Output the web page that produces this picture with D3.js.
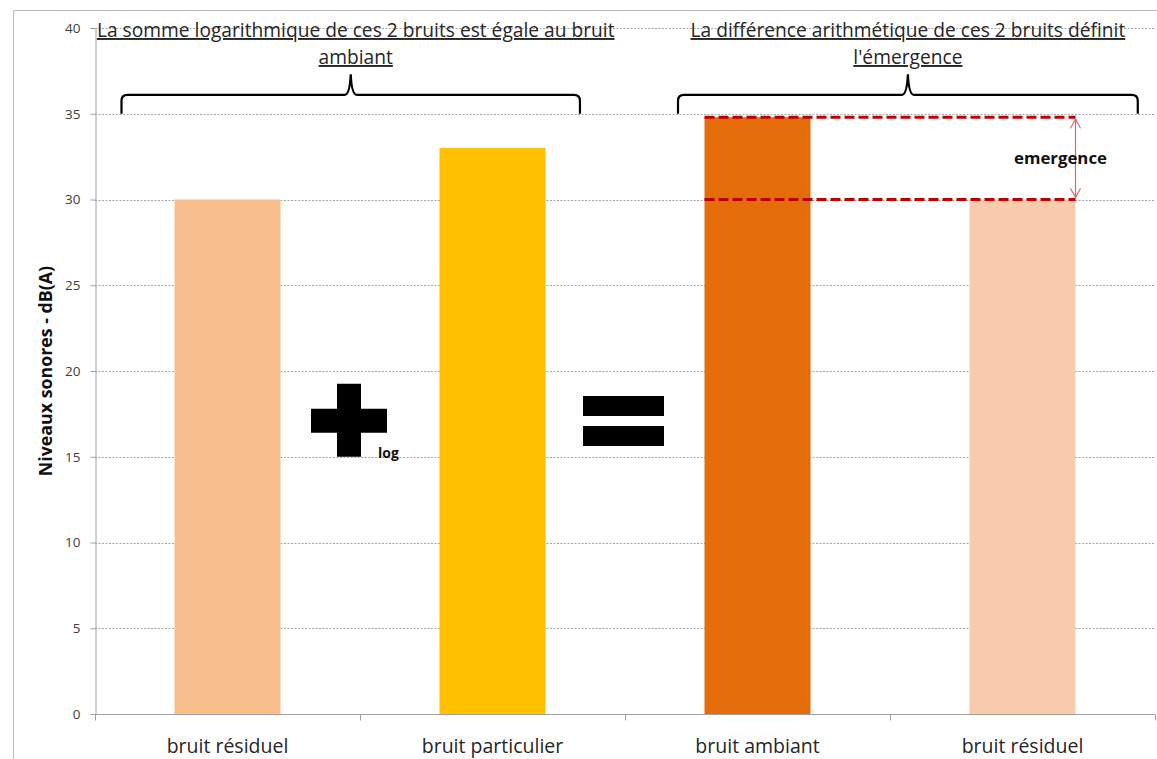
<!DOCTYPE html>
<html>
<head>
<meta charset="utf-8">
<script src="https://cdn.jsdelivr.net/npm/d3@7"></script>
<style>
  html, body { margin: 0; padding: 0; background: #fff; }
  svg { display: block; font-family: "Open Sans", "Liberation Sans", sans-serif; }
</style>
</head>
<body>
<svg id="chart" width="1157" height="759"></svg>
<script>
// Niveaux sonores (dB(A)) for each noise
const categories = ["bruit résiduel", "bruit particulier", "bruit ambiant", "bruit résiduel"];
const levels = [30, 33, 34.8, 30];
const barColors = ["#F8BE8C", "#FFC000", "#E46C0A", "#F8CBAD"];
const yTicks = [0, 5, 10, 15, 20, 25, 30, 35, 40];
const yTitle = "Niveaux sonores - dB(A)";
const leftCaption = ["La somme logarithmique de ces 2 bruits est égale au bruit", "ambiant"];
const rightCaption = ["La différence arithmétique de ces 2 bruits définit", "l'émergence"];

const svg = d3.select("#chart");
const W = 1157, H = 759;
const plot = { left: 95, right: 1155, top: 28, bottom: 714 };

// outer frame
svg.append("path")
  .attr("d", `M13.5,${H} V10.5 H${W}`)
  .attr("fill", "none").attr("stroke", "#BDBDBD").attr("stroke-width", 1);

const x = d3.scaleBand().domain(d3.range(categories.length))
  .range([plot.left, plot.right]).paddingInner(0.6).paddingOuter(0.3);
const y = d3.scaleLinear().domain([0, 40]).range([plot.bottom, plot.top]);
const step = x.step();
const bandEdge = i => plot.left + i * step;

// horizontal grid
svg.append("g").selectAll("line").data(yTicks.filter(d => d > 0)).join("line")
  .attr("x1", plot.left).attr("x2", plot.right)
  .attr("y1", d => Math.round(y(d)) + 0.5).attr("y2", d => Math.round(y(d)) + 0.5)
  .attr("stroke", "#A6A6A6").attr("stroke-width", 1).attr("stroke-dasharray", "2,1.5");

// bars
svg.append("g").selectAll("rect").data(levels).join("rect")
  .attr("x", (d, i) => x(i)).attr("width", x.bandwidth())
  .attr("y", d => y(d)).attr("height", d => y(0) - y(d))
  .attr("fill", (d, i) => barColors[i]);

// y axis
const yAxis = d3.axisLeft(y).tickValues(yTicks).tickSize(5).tickPadding(10);
const gy = svg.append("g").attr("transform", `translate(${plot.left + 0.5},0)`).call(yAxis);
gy.select(".domain").attr("stroke", "#A0A0A0");
gy.selectAll(".tick line").attr("stroke", "#A0A0A0");
gy.selectAll(".tick text").attr("font-size", 13.5).attr("fill", "#404040")
  .attr("font-family", "'Open Sans', sans-serif");

// x axis (ticks at category boundaries)
const gx = svg.append("g").attr("transform", `translate(0,${plot.bottom + 0.5})`);
gx.append("line").attr("x1", plot.left).attr("x2", plot.right)
  .attr("stroke", "#A0A0A0");
gx.selectAll("line.t").data(d3.range(categories.length + 1)).join("line").attr("class", "t")
  .attr("x1", i => Math.round(bandEdge(i)) + 0.5).attr("x2", i => Math.round(bandEdge(i)) + 0.5)
  .attr("y1", 0).attr("y2", 6).attr("stroke", "#A0A0A0");
gx.selectAll("text").data(categories).join("text")
  .attr("x", (d, i) => x(i) + x.bandwidth() / 2).attr("y", 38)
  .attr("text-anchor", "middle").attr("font-size", 19.5).attr("fill", "#262626")
  .text(d => d);

// y axis title
svg.append("text")
  .attr("transform", `translate(52,${(plot.top + plot.bottom) / 2}) rotate(-90)`)
  .attr("text-anchor", "middle").attr("font-weight", "bold").attr("font-size", 17.8)
  .attr("fill", "#111").text(yTitle);

// curly braces grouping the bars
function brace(x0, x1, yTip, yBar, yPeak) {
  const cx = (x0 + x1) / 2, r = 6;
  return `M${x0},${yTip} V${yBar + r} Q${x0},${yBar} ${x0 + r},${yBar} H${cx - 6}
          Q${cx - 1},${yBar} ${cx},${yPeak} Q${cx + 1},${yBar} ${cx + 6},${yBar}
          H${x1 - r} Q${x1},${yBar} ${x1},${yBar + r} V${yTip}`;
}
const braceSpans = [[bandEdge(0) + 0.1 * step, bandEdge(2) - 0.17 * step],
                    [bandEdge(2) + 0.2 * step, bandEdge(4) - 0.065 * step]];
svg.append("g").selectAll("path").data(braceSpans).join("path")
  .attr("d", d => brace(d[0], d[1], y(35), y(36.1), y(37.3)))
  .attr("fill", "none").attr("stroke", "#000").attr("stroke-width", 2.2);

// captions above braces
const captions = [leftCaption, rightCaption];
captions.forEach((lines, k) => {
  const cx = (braceSpans[k][0] + braceSpans[k][1]) / 2 + (k === 0 ? 5 : 0);
  const t = svg.append("text").attr("text-anchor", "middle").attr("font-size", 19.2)
    .attr("fill", "#262626").attr("text-decoration", "underline");
  lines.forEach((s, j) => {
    t.append("tspan").attr("x", cx).attr("y", 37 + j * 27).text(s);
  });
});

// emergence: dashed lines at ambient and residual levels, with double arrow
const eX0 = x(2), eX1 = x(3) + x.bandwidth();
svg.append("g").selectAll("line").data([levels[2], levels[3]]).join("line")
  .attr("x1", eX0).attr("x2", eX1)
  .attr("y1", d => y(d)).attr("y2", d => y(d))
  .attr("stroke", "#C00000").attr("stroke-width", 3).attr("stroke-dasharray", "10,4");

const ax = eX1;
const yA = y(levels[2]) + 2, yB = y(levels[3]) - 2;
const arrow = svg.append("g").attr("stroke", "#E06666").attr("fill", "none").attr("stroke-width", 1.2);
arrow.append("line").attr("x1", ax).attr("x2", ax).attr("y1", yA).attr("y2", yB);
arrow.append("path").attr("d", `M${ax - 5},${yA + 9} L${ax},${yA} L${ax + 5},${yA + 9}`);
arrow.append("path").attr("d", `M${ax - 5},${yB - 9} L${ax},${yB} L${ax + 5},${yB - 9}`);
svg.append("text").attr("x", ax - 15).attr("y", (yA + yB) / 2 + 6)
  .attr("text-anchor", "middle").attr("font-weight", "bold").attr("font-size", 16.8)
  .attr("fill", "#111").text("emergence");

// operator symbols: "+ log" and "="
const plusCx = bandEdge(1) - 11, plusCy = y(15) - 36;
svg.append("rect").attr("x", plusCx - 12).attr("y", plusCy - 37).attr("width", 24).attr("height", 73).attr("fill", "#000");
svg.append("rect").attr("x", plusCx - 38).attr("y", plusCy - 12).attr("width", 76).attr("height", 24).attr("fill", "#000");
svg.append("text").attr("x", plusCx + 29).attr("y", y(15) + 1).attr("font-weight", "bold")
  .attr("font-size", 14).attr("fill", "#111").text("log");

const eqCx = bandEdge(2) - 2;
svg.append("rect").attr("x", eqCx - 40).attr("y", 396).attr("width", 81).attr("height", 20).attr("fill", "#000");
svg.append("rect").attr("x", eqCx - 40).attr("y", 426).attr("width", 81).attr("height", 20).attr("fill", "#000");
</script>
</body>
</html>
